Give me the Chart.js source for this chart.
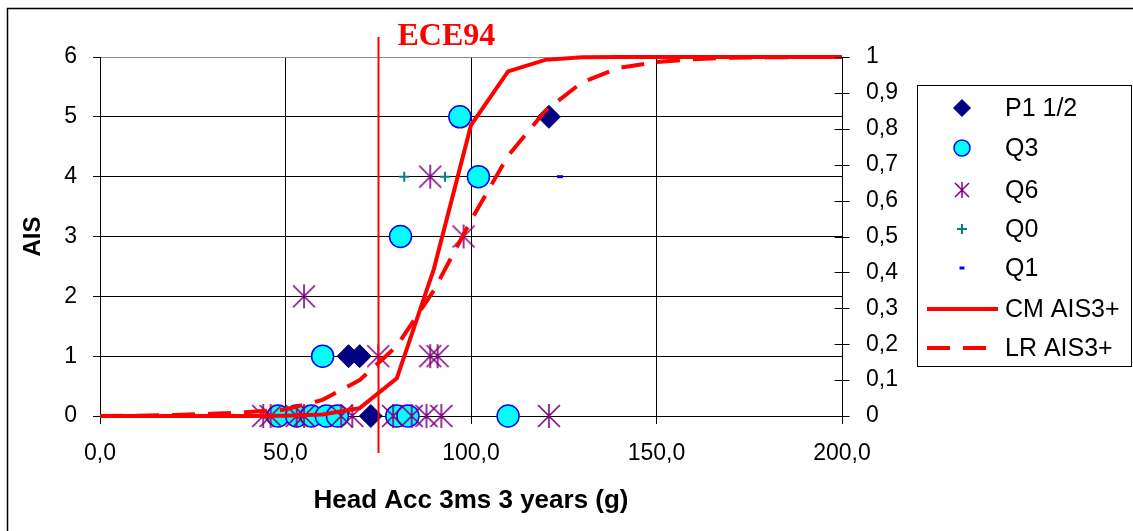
<!DOCTYPE html>
<html>
<head>
<meta charset="utf-8">
<script src="https://cdn.jsdelivr.net/npm/chart.js@4.4.0/dist/chart.umd.min.js"></script>
<style>
  html, body { margin: 0; padding: 0; background: #fff; }
  #wrap { width: 1133px; height: 531px; position: relative; }
</style>
</head>
<body>
<div id="wrap"><canvas id="chart" width="1133" height="531"></canvas></div>
<script>
// Axis ticks
const xTicks = [0, 50, 100, 150, 200];
const aisTicks = [0, 1, 2, 3, 4, 5, 6];
const probTicks = [0, 0.1, 0.2, 0.3, 0.4, 0.5, 0.6, 0.7, 0.8, 0.9, 1];

// Dummy test points (head acc g, AIS)
const p1X = [67, 70, 73, 121];
const p1Y = [1, 1, 0, 5];
const q3X = [48, 53, 57, 61, 64, 80, 83, 110, 60, 81, 102, 97];
const q3Y = [0, 0, 0, 0, 0, 0, 0, 0, 1, 3, 4, 5];
const q6X = [44, 46, 53, 55, 65, 68, 79, 84, 88, 92, 121, 75, 89, 91, 55, 98, 89];
const q6Y = [0, 0, 0, 0, 0, 0, 0, 0, 0, 0, 0, 1, 1, 1, 2, 3, 4];
const q0X = [82, 93];
const q0Y = [4, 4];
const q1X = [124];
const q1Y = [4];

// Risk curves (right axis, probability of AIS3+)
const curveX = [0, 10, 20, 30, 40, 50, 60, 70, 80, 90, 100, 110, 120, 130, 140, 150, 160, 170, 180, 190, 200];
const cmAis3 = [0, 0, 0, 0, 0, 0.001, 0.004, 0.022, 0.105, 0.41, 0.81, 0.96, 0.992, 0.999, 1, 1, 1, 1, 1, 1, 1];
const lrAis3 = [0, 0.001, 0.003, 0.006, 0.011, 0.018, 0.045, 0.1, 0.195, 0.35, 0.545, 0.725, 0.85, 0.93, 0.97, 0.986, 0.994, 0.998, 0.999, 1, 1];

// ECE94 limit
const eceX = 75;
const eceLabel = 'ECE94';

const pts = (xs, ys) => xs.map((x, i) => ({ x: x, y: ys[i] }));
const fmtComma = (v, d) => v.toFixed(d).replace('.', ',');

// Asterisk marker for Q6
function makeStar(size, color, width) {
    const c = document.createElement('canvas');
    c.width = size; c.height = size;
    const g = c.getContext('2d');
    const m = size / 2, e = 1;
    g.strokeStyle = color;
    g.lineWidth = width;
    g.beginPath();
    g.moveTo(m, e); g.lineTo(m, size - e);
    g.moveTo(e + 1, e + 1); g.lineTo(size - e - 1, size - e - 1);
    g.moveTo(size - e - 1, e + 1); g.lineTo(e + 1, size - e - 1);
    g.stroke();
    return c;
}
const starBig = makeStar(26, '#800080', 1.6);
const starSmall = makeStar(18, '#800080', 1.5);

Chart.defaults.font.family = '"Liberation Sans", Arial, sans-serif';
Chart.defaults.color = '#000';

const datasets = [
    {
        label: 'P1 1/2', data: pts(p1X, p1Y), yAxisID: 'y', order: 6,
        pointStyle: 'rectRot', pointRadius: 11.5, backgroundColor: '#000080', borderColor: '#000080', borderWidth: 1,
        legend: { pointStyle: 'rectRot', radius: 8.5, fill: '#000080', stroke: '#000080', bw: 1 }
    },
    {
        label: 'Q3', data: pts(q3X, q3Y), yAxisID: 'y', order: 5,
        pointStyle: 'circle', pointRadius: 11, backgroundColor: '#00FFFF', borderColor: '#0000FF', borderWidth: 1.5,
        legend: { pointStyle: 'circle', radius: 8, fill: '#00FFFF', stroke: '#0000FF', bw: 1.5 }
    },
    {
        label: 'Q6', data: pts(q6X, q6Y), yAxisID: 'y', order: 4,
        pointStyle: starBig, pointRadius: 12, backgroundColor: '#800080', borderColor: '#800080',
        legend: { pointStyle: starSmall, radius: 8, fill: '#800080', stroke: '#800080', bw: 1 }
    },
    {
        label: 'Q0', data: pts(q0X, q0Y), yAxisID: 'y', order: 3,
        pointStyle: 'cross', pointRadius: 5, backgroundColor: '#008080', borderColor: '#008080', borderWidth: 2,
        legend: { pointStyle: 'cross', radius: 5, fill: '#008080', stroke: '#008080', bw: 2 }
    },
    {
        label: 'Q1', data: pts(q1X, q1Y), yAxisID: 'y', order: 2,
        pointStyle: 'line', pointRadius: 3, backgroundColor: '#0000FF', borderColor: '#0000FF', borderWidth: 3,
        legend: { pointStyle: 'line', radius: 2.5, fill: '#0000FF', stroke: '#0000FF', bw: 3 }
    },
    {
        label: 'CM AIS3+', data: pts(curveX, cmAis3), yAxisID: 'y1', order: 1,
        showLine: true, pointRadius: 0, borderColor: '#FF0000', borderWidth: 4, tension: 0,
        legend: { line: true, dash: [] }
    },
    {
        label: 'LR AIS3+', data: pts(curveX, lrAis3), yAxisID: 'y1', order: 0,
        showLine: true, pointRadius: 0, borderColor: '#FF0000', borderWidth: 4, borderDash: [23, 13], tension: 0,
        legend: { line: true, dash: [23, 13] }
    }
];
datasets.forEach(d => { d.clip = false; });

// Outer frame
const framePlugin = {
    id: 'frame',
    beforeDraw(chart) {
        const ctx = chart.ctx;
        ctx.save();
        ctx.fillStyle = '#fff';
        ctx.fillRect(0, 0, chart.width, chart.height);
        ctx.strokeStyle = '#000';
        ctx.lineWidth = 1.5;
        ctx.strokeRect(7.5, 8.5, 1200, 600);
        ctx.restore();
    }
};

// ECE94 marker line and right axis tick marks
const ecePlugin = {
    id: 'ece',
    afterDatasetsDraw(chart) {
        const ctx = chart.ctx;
        const px = Math.round(chart.scales.x.getPixelForValue(eceX)) + 0.5;
        ctx.save();
        ctx.strokeStyle = '#FF0000';
        ctx.lineWidth = 2;
        ctx.beginPath();
        ctx.moveTo(px, 37);
        ctx.lineTo(px, 453);
        ctx.stroke();
        ctx.fillStyle = '#FF0000';
        ctx.font = 'bold 32px "Liberation Serif", "Times New Roman", serif';
        ctx.textBaseline = 'alphabetic';
        ctx.fillText(eceLabel, px + 19, 45);

        // right axis ticks (cross)
        const y1 = chart.scales.y1;
        const rx = Math.round(chart.chartArea.right) + 0.5;
        ctx.strokeStyle = '#000';
        ctx.lineWidth = 1;
        ctx.beginPath();
        y1.ticks.forEach(t => {
            const py = Math.round(y1.getPixelForValue(t.value)) + 0.5;
            ctx.moveTo(rx - 8, py);
            ctx.lineTo(rx + 7, py);
        });
        ctx.stroke();
        ctx.restore();
    }
};

// Legend box
const legendPlugin = {
    id: 'boxLegend',
    afterDraw(chart) {
        const ctx = chart.ctx;
        const left = 917.5, top = 85.5, w = 214, h = 281;
        const rowY = [108, 148, 190, 229, 268, 309, 348];
        ctx.save();
        ctx.strokeStyle = '#000';
        ctx.lineWidth = 1;
        ctx.strokeRect(left, top, w, h);
        ctx.font = '25px "Liberation Sans", Arial, sans-serif';
        ctx.textBaseline = 'middle';
        chart.data.datasets.forEach((d, i) => {
            const y = rowY[i];
            const lg = d.legend;
            if (lg.line) {
                ctx.save();
                ctx.strokeStyle = d.borderColor;
                ctx.lineWidth = 4;
                ctx.setLineDash(lg.dash);
                ctx.beginPath();
                ctx.moveTo(927, y);
                ctx.lineTo(lg.dash.length ? 987 : 998, y);
                ctx.stroke();
                ctx.restore();
            } else {
                ctx.save();
                ctx.fillStyle = lg.fill;
                ctx.strokeStyle = lg.stroke;
                ctx.lineWidth = lg.bw;
                Chart.helpers.drawPoint(ctx, { pointStyle: lg.pointStyle, radius: lg.radius, rotation: 0, borderWidth: lg.bw }, 962, y);
                ctx.restore();
            }
            ctx.fillStyle = '#000';
            ctx.fillText(d.label, 1005, y + 1);
        });
        ctx.restore();
    }
};

new Chart(document.getElementById('chart'), {
    type: 'scatter',
    data: { datasets: datasets },
    options: {
        responsive: false,
        animation: false,
        events: [],
        layout: { padding: { left: 0, top: 57, right: 231, bottom: 0 } },
        plugins: {
            legend: { display: false },
            tooltip: { enabled: false }
        },
        scales: {
            x: {
                type: 'linear', min: 0, max: 200,
                afterBuildTicks: s => { s.ticks = xTicks.map(v => ({ value: v })); },
                afterFit: s => { s.height = 115; },
                ticks: { font: { size: 23 }, color: '#000', padding: 16, maxRotation: 0, callback: v => fmtComma(v, 1) },
                grid: { color: '#000', lineWidth: 1, tickLength: 8, tickColor: '#000' },
                border: { color: '#000', width: 1 },
                title: { display: true, text: 'Head Acc 3ms 3 years (g)', font: { size: 26, weight: 'bold' }, color: '#000', padding: { top: 4, bottom: 15 } }
            },
            y: {
                type: 'linear', position: 'left', min: 0, max: 6,
                afterBuildTicks: s => { s.ticks = aisTicks.map(v => ({ value: v })); },
                afterFit: s => { s.width = 100; },
                ticks: { font: { size: 23 }, color: '#000', padding: 16 },
                grid: {
                    color: c => (c.tick && c.tick.value === 6 ? '#8c8c8c' : '#000'),
                    lineWidth: 1, tickLength: 7, tickColor: '#000'
                },
                border: { color: '#000', width: 1 },
                title: { display: true, text: 'AIS', font: { size: 24, weight: 'bold' }, color: '#000', padding: { top: 19, bottom: 4 } }
            },
            y1: {
                type: 'linear', position: 'right', min: 0, max: 1,
                afterBuildTicks: s => { s.ticks = probTicks.map(v => ({ value: v })); },
                afterFit: s => { s.width = 60; },
                ticks: {
                    font: { size: 23 }, color: '#000', padding: 24,
                    callback: v => (v === 0 || v === 1 ? String(v) : fmtComma(v, 1))
                },
                grid: { drawOnChartArea: false, drawTicks: false },
                border: { color: '#000', width: 1 }
            }
        }
    },
    plugins: [framePlugin, ecePlugin, legendPlugin]
});
</script>
</body>
</html>
